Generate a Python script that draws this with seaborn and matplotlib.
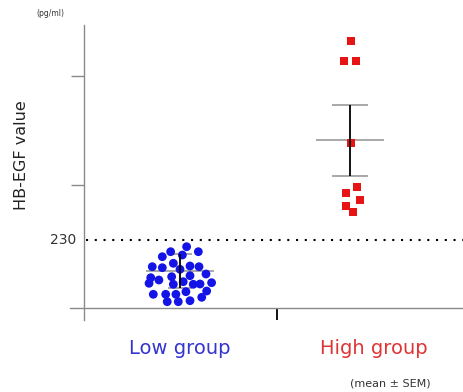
import matplotlib
matplotlib.use("Agg")
import matplotlib.pyplot as plt
import seaborn as sns
import pandas as pd
import numpy as np

# ---- data ----
groups = ["Low group", "High group"]
low_x = [0.039, -0.055, 0.014, 0.108, -0.104, -0.039, -0.163, -0.104, 0.0, 0.059, 0.112,
         -0.172, -0.124, -0.049, 0.059, 0.153, -0.182, -0.039, 0.019, 0.078, 0.118, 0.186,
         -0.157, -0.084, -0.024, 0.035, 0.157, -0.075, -0.010, 0.059, 0.128]
low_values = [223.3, 218.3, 215, 218.3, 213.3, 206.7, 203.3, 202.3, 200.7, 204, 203.3,
              192.3, 190, 193.3, 194.3, 196, 186.7, 185.7, 188.3, 185.7, 186, 187.3,
              175.7, 175.7, 175.7, 178.3, 179, 168.3, 168.3, 169.3, 172.7]
high_x = [1.004, 0.966, 1.037, 1.004, 1.043, 0.976, 1.059, 0.976, 1.019]
high_values = [429.3, 408.7, 408.7, 326.7, 283.3, 276.7, 270, 264.3, 258.3]
group_means = [199, 330]
group_sem = [17, 35.5]
cutoff = 230
cutoff_label = "230"

df = pd.DataFrame({
    "x": low_x + high_x,
    "value": low_values + high_values,
    "group": [groups[0]] * len(low_x) + [groups[1]] * len(high_x),
})

W, H = 463, 392
fig = plt.figure(figsize=(W / 100, H / 100), dpi=100)
sns.set_style("white")
plt.rcParams["font.family"] = ["DejaVu Sans"]
ax = fig.add_axes([70 / W, 72 / H, 393 / W, 295 / H])

palette = {groups[0]: "#1414e6", groups[1]: "#e61414"}
markers = {groups[0]: "o", groups[1]: "s"}

# mean / SEM bars (gray caps behind points)
cap_half = [0.07, 0.106]
mean_half = [0.2, 0.2]
for i in range(2):
    ax.hlines([group_means[i] - group_sem[i], group_means[i] + group_sem[i]],
              i - cap_half[i], i + cap_half[i], color="#9a9a9a", lw=1.2, zorder=1)
    ax.hlines(group_means[i], i - mean_half[i], i + mean_half[i],
              color="#9a9a9a", lw=1.2, zorder=1)

sns.scatterplot(data=df[df.group == groups[0]], x="x", y="value", color=palette[groups[0]],
                marker="o", s=40, edgecolor="none", legend=False, ax=ax, zorder=2)
sns.scatterplot(data=df[df.group == groups[1]], x="x", y="value", color=palette[groups[1]],
                marker="s", s=34, edgecolor="none", legend=False, ax=ax, zorder=2)

ax.errorbar([0, 1], group_means, yerr=group_sem, fmt="none", ecolor="black",
            elinewidth=1.3, capsize=0, zorder=3)

# cutoff dotted line
ax.hlines(cutoff, -0.553, 1.665, colors="black", linestyles=(0, (1, 3.2)), lw=1.5, zorder=1)

ax.set_xlim(-0.647, 1.665)
ax.set_ylim(150, 445)
for s in ["top", "right"]:
    ax.spines[s].set_visible(False)
ax.spines["left"].set_position(("data", -0.565))
ax.spines["bottom"].set_position(("data", 162))
for s in ["left", "bottom"]:
    ax.spines[s].set_color("#8a8a8a")
    ax.spines[s].set_linewidth(1.0)

ax.set_yticks([285, 394])
ax.set_yticklabels([])
ax.tick_params(axis="y", direction="out", length=9.5, width=1.0, color="#8a8a8a", left=True)
ax.set_xticks([0.571])
ax.set_xticklabels([])
ax.tick_params(axis="x", direction="out", length=8.6, width=1.3, color="black", bottom=True)
ax.set_xlabel("")
ax.set_ylabel("")

fig.text(76 / W, 1 - 240 / H, cutoff_label, ha="right", va="center", fontsize=10, color="#333333")
fig.text(22 / W, 1 - 155 / H, "HB-EGF value", rotation=90, ha="center", va="center",
         fontsize=11.5, color="#222222")
fig.text(50 / W, 1 - 14 / H, "(pg/ml)", ha="center", va="center", fontsize=5.5, color="#333333")
fig.text(180 / W, 1 - 348 / H, groups[0], ha="center", va="center", fontsize=14, color="#3434d0")
fig.text(374 / W, 1 - 348 / H, groups[1], ha="center", va="center", fontsize=14, color="#e03434")
fig.text(390 / W, 1 - 383 / H, "(mean ± SEM)", ha="center", va="center", fontsize=8, color="#333333")

fig.savefig("out.png", dpi=100)
